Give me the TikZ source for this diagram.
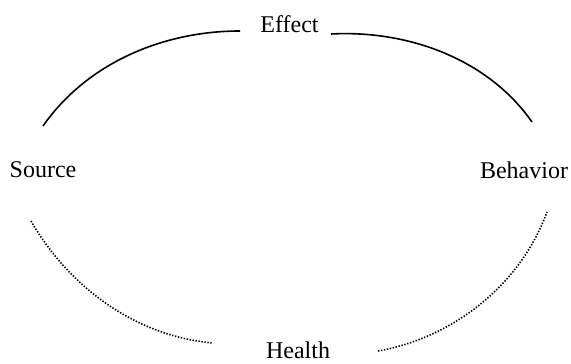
\documentclass[tikz,border=0pt]{standalone}
\usepackage{fontspec}
\setmainfont{Liberation Serif}
\usepackage{tikz}

\begin{document}
\begin{tikzpicture}[x=0.5pt,y=0.5pt,
		lbl/.style={anchor=base, inner sep=0pt, font=\fontsize{12}{14}\selectfont},
		link/.style={line width=0.8pt},
		weak/.style={line width=0.8pt, dash pattern=on 0.7pt off 0.8pt}]
			%%%%% START %%%%%
			
			\useasboundingbox (0,0) rectangle (571,363);
			
			\node[lbl] (effect) at (289.5,330) {Effect};
			\node[lbl] (source) at (43,185) {Source};
			\node[lbl] (behavior) at (524,184) {Behavior};
			\node[lbl] (health) at (298,4) {Health};
			
			\coordinate (se0) at (43,237);
			\coordinate (se1) at (240,332);
			\coordinate (eb0) at (331,329);
			\coordinate (eb1) at (532,241);
			\coordinate (sh0) at (31,142);
			\coordinate (sh1) at (213,20);
			\coordinate (hb0) at (378,12);
			\coordinate (hb1) at (547,151);
			
			\draw[link] (se0) to[out=55, in=180, looseness=0.9] (se1);
			\draw[link] (eb0) to[out=3, in=125, looseness=0.9] (eb1);
			
			\draw[weak] (sh0) to[out=-60, in=175, looseness=0.9] (sh1);
			\draw[weak] (hb0) to[out=10, in=-110, looseness=0.9] (hb1);
			
			%%%%% END %%%%%
		\end{tikzpicture}
\end{document}
